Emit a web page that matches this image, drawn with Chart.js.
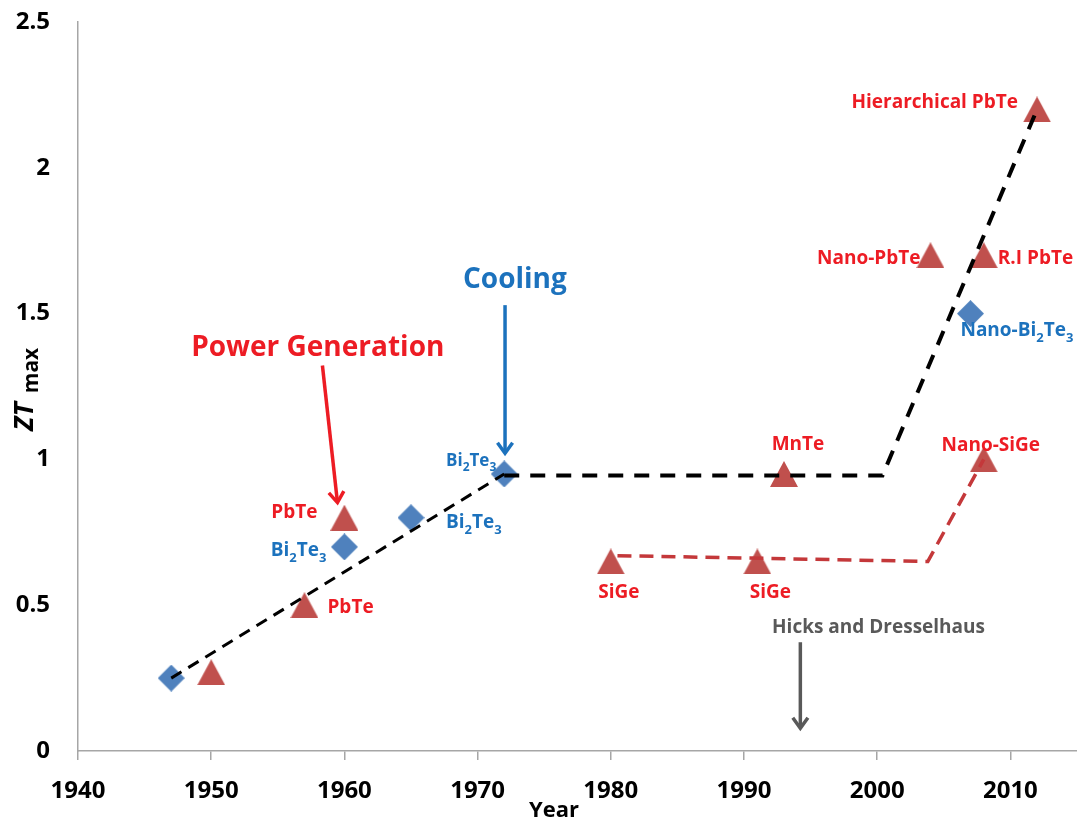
<!DOCTYPE html>
<html>
<head>
<meta charset="utf-8">
<title>ZT max by year</title>
<script src="https://cdn.jsdelivr.net/npm/chart.js@4.4.0/dist/chart.umd.min.js"></script>
<style>
    html, body { margin: 0; padding: 0; background: #fff; overflow: hidden; }
    #ztChart { display: block; }
</style>
</head>
<body>
<canvas id="ztChart" width="1077" height="822"></canvas>
<script>
// Materials for cooling (Bi2Te3 family)
const coolingYears = [1947, 1960, 1965, 1972, 2007];
const coolingZT = [0.25, 0.70, 0.80, 0.95, 1.50];
const coolingNames = ['', 'Bi_2Te_3', 'Bi_2Te_3', 'Bi_2Te_3', 'Nano-Bi_2Te_3'];

// Materials for power generation
const powerYears = [1950, 1957, 1960, 1980, 1991, 1993, 2004, 2008, 2008, 2012];
const powerZT = [0.27, 0.50, 0.80, 0.65, 0.65, 0.95, 1.70, 1.70, 1.00, 2.20];
const powerNames = ['', 'PbTe', 'PbTe', 'SiGe', 'SiGe', 'MnTe', 'Nano-PbTe', 'R.I PbTe', 'Nano-SiGe', 'Hierarchical PbTe'];

// Trend lines
const earlyTrendYears = [1947, 1972];
const earlyTrendZT = [0.25, 0.95];
const bulkTrendYears = [1972, 2000.4, 2012];
const bulkTrendZT = [0.945, 0.945, 2.2];
const sigeTrendYears = [1980.5, 2003.8, 2008];
const sigeTrendZT = [0.67, 0.65, 1.0];

// Axis ticks
const xTicks = [1940, 1950, 1960, 1970, 1980, 1990, 2000, 2010];
const yTicks = [0, 0.5, 1, 1.5, 2, 2.5];

const FONT = '"Open Sans", Lato, sans-serif';
const RED_TEXT = '#ed1c24';
const BLUE_TEXT = '#1c72bd';
const GREY_TEXT = '#595959';

// label placement next to each marker (pixel offset + alignment)
const coolingLabelPlace = [
    null,
    { dx: -18, dy: 4, align: 'right' },
    { dx: 35, dy: 5, align: 'left' },
    { dx: -8, dy: -13, align: 'right', size: 17 },
    { dx: -10, dy: 17, align: 'left' }
];
const powerLabelPlace = [
    null,
    { dx: 23, dy: 2, align: 'left' },
    { dx: -27, dy: -5, align: 'right' },
    { dx: 8, dy: 31, align: 'center' },
    { dx: 13, dy: 31, align: 'center' },
    { dx: 14, dy: -29, align: 'center' },
    { dx: -10, dy: 3, align: 'right' },
    { dx: 14, dy: 3, align: 'left' },
    { dx: 7, dy: -14, align: 'center' },
    { dx: -19, dy: -7, align: 'right' }
];

// callouts, anchored in data coordinates
const callouts = [
    { text: 'Power Generation', color: RED_TEXT, size: 28, at: [1958.0, 1.381], from: [1958.35, 1.322], to: [1959.48, 0.852] },
    { text: 'Cooling', color: BLUE_TEXT, size: 28, at: [1972.8, 1.614], from: [1972.06, 1.529], to: [1972.06, 1.021] },
    { text: 'Hicks and Dresselhaus', color: GREY_TEXT, size: 19, at: [2000.1, 0.424], from: [1994.23, 0.373], to: [1994.23, 0.078] }
];

function toPoints(xs, ys) {
    return xs.map((x, i) => ({ x: x, y: ys[i] }));
}

function makeMarker(shape, color, w, h) {
    const c = document.createElement('canvas');
    c.width = w;
    c.height = h;
    const g = c.getContext('2d');
    g.fillStyle = color;
    g.beginPath();
    if (shape === 'triangle') {
        g.moveTo(w / 2, 0);
        g.lineTo(w, h);
        g.lineTo(0, h);
    } else {
        g.moveTo(w / 2, 0);
        g.lineTo(w, h / 2);
        g.lineTo(w / 2, h);
        g.lineTo(0, h / 2);
    }
    g.closePath();
    g.fill();
    return c;
}

// draws text like "Bi_2Te_3" with subscript digits
function drawRich(ctx, text, x, y, align, size, color) {
    const parts = text.split(/_(\d)/);
    const subSize = Math.round(size * 0.68);
    const segs = parts.map((p, i) => ({ t: p, sub: i % 2 === 1 }));
    let total = 0;
    segs.forEach(s => {
        ctx.font = 'bold ' + (s.sub ? subSize : size) + 'px ' + FONT;
        s.w = ctx.measureText(s.t).width;
        total += s.w;
    });
    let cx = x;
    if (align === 'center') cx = x - total / 2;
    if (align === 'right') cx = x - total;
    ctx.fillStyle = color;
    ctx.textAlign = 'left';
    ctx.textBaseline = 'middle';
    segs.forEach(s => {
        ctx.font = 'bold ' + (s.sub ? subSize : size) + 'px ' + FONT;
        ctx.fillText(s.t, cx, s.sub ? y + size * 0.38 : y);
        cx += s.w;
    });
}

function drawArrow(ctx, x1, y1, x2, y2, color) {
    const ang = Math.atan2(y2 - y1, x2 - x1);
    ctx.save();
    ctx.strokeStyle = color;
    ctx.lineWidth = 3.5;
    ctx.lineCap = 'butt';
    ctx.beginPath();
    ctx.moveTo(x1, y1);
    ctx.lineTo(x2 - Math.cos(ang) * 2, y2 - Math.sin(ang) * 2);
    ctx.stroke();
    ctx.lineJoin = 'miter';
    ctx.beginPath();
    const head = 13, spread = 0.62;
    ctx.moveTo(x2 - head * Math.cos(ang - spread), y2 - head * Math.sin(ang - spread));
    ctx.lineTo(x2, y2);
    ctx.lineTo(x2 - head * Math.cos(ang + spread), y2 - head * Math.sin(ang + spread));
    ctx.stroke();
    ctx.restore();
}

const annotationPlugin = {
    id: 'ztAnnotations',
    afterDatasetsDraw(chart) {
        const ctx = chart.ctx;
        const xs = chart.scales.x, ys = chart.scales.y;
        ctx.save();

        const labelSet = (years, zts, names, places, color) => {
            names.forEach((name, i) => {
                const p = places[i];
                if (!name || !p) return;
                const px = xs.getPixelForValue(years[i]);
                const py = ys.getPixelForValue(zts[i]);
                drawRich(ctx, name, px + p.dx, py + p.dy, p.align, p.size || 19, color);
            });
        };
        labelSet(powerYears, powerZT, powerNames, powerLabelPlace, RED_TEXT);
        labelSet(coolingYears, coolingZT, coolingNames, coolingLabelPlace, BLUE_TEXT);

        callouts.forEach(c => {
            drawRich(ctx, c.text, xs.getPixelForValue(c.at[0]), ys.getPixelForValue(c.at[1]), 'center', c.size, c.color);
            drawArrow(ctx,
                xs.getPixelForValue(c.from[0]), ys.getPixelForValue(c.from[1]),
                xs.getPixelForValue(c.to[0]), ys.getPixelForValue(c.to[1]), c.color);
        });

        // axis titles
        drawRich(ctx, 'Year', 554, 811, 'center', 22, '#000');

        ctx.translate(25, 431);
        ctx.rotate(-Math.PI / 2);
        ctx.fillStyle = '#000';
        ctx.textAlign = 'left';
        ctx.textBaseline = 'middle';
        ctx.font = 'italic bold 27px ' + FONT;
        ctx.fillText('ZT', 0, 0);
        const zw = ctx.measureText('ZT').width;
        ctx.font = 'bold 21px ' + FONT;
        ctx.fillText('max', zw + 9, 7);
        ctx.restore();
    }
};

const lineStyle = (color, width, dash) => ({
    type: 'line',
    showLine: true,
    borderColor: color,
    borderWidth: width,
    borderDash: dash,
    pointRadius: 0,
    fill: false,
    tension: 0,
    order: 0
});

new Chart(document.getElementById('ztChart'), {
    type: 'scatter',
    data: {
        datasets: [
            {
                label: 'Early trend',
                data: toPoints(earlyTrendYears, earlyTrendZT),
                ...lineStyle('#000', 3, [12, 8])
            },
            {
                label: 'Bulk trend',
                data: toPoints(bulkTrendYears, bulkTrendZT),
                ...lineStyle('#000', 4, [15, 11])
            },
            {
                label: 'SiGe trend',
                data: toPoints(sigeTrendYears, sigeTrendZT),
                ...lineStyle('#c4383a', 3.5, [14, 8])
            },
            {
                label: 'Power generation',
                data: toPoints(powerYears, powerZT),
                pointStyle: makeMarker('triangle', '#c0504d', 28, 26),
                pointRadius: 13,
                order: 1
            },
            {
                label: 'Cooling',
                data: toPoints(coolingYears, coolingZT),
                pointStyle: makeMarker('diamond', '#4f81bd', 27, 27),
                pointRadius: 13,
                order: 1
            }
        ]
    },
    options: {
        responsive: false,
        animation: false,
        layout: {
            autoPadding: false,
            padding: { top: 22, right: 0, left: 0, bottom: 0 }
        },
        plugins: {
            legend: { display: false },
            tooltip: { enabled: false }
        },
        scales: {
            x: {
                type: 'linear',
                min: 1940,
                max: 2015,
                afterBuildTicks: axis => { axis.ticks = xTicks.map(v => ({ value: v })); },
                afterFit: axis => {
                    axis.height = 71;
                    axis.paddingLeft = 0;
                    axis.paddingRight = 0;
                },
                grid: { drawOnChartArea: false, drawTicks: true, tickLength: 9, color: '#a6a6a6', lineWidth: 1.5 },
                border: { color: '#a6a6a6', width: 1.5 },
                ticks: {
                    color: '#000',
                    padding: 17,
                    maxRotation: 0,
                    font: { family: FONT, size: 24, weight: 'bold' },
                    callback: v => String(v)
                }
            },
            y: {
                type: 'linear',
                min: 0,
                max: 2.5,
                afterBuildTicks: axis => { axis.ticks = yTicks.map(v => ({ value: v })); },
                afterFit: axis => {
                    axis.width = 78;
                    axis.paddingTop = 0;
                    axis.paddingBottom = 0;
                },
                grid: { drawOnChartArea: false, drawTicks: false },
                border: { color: '#a6a6a6', width: 1.5 },
                ticks: {
                    color: '#000',
                    padding: 28,
                    font: { family: FONT, size: 24, weight: 'bold' },
                    callback: v => String(v)
                }
            }
        }
    },
    plugins: [annotationPlugin]
});
</script>
</body>
</html>
